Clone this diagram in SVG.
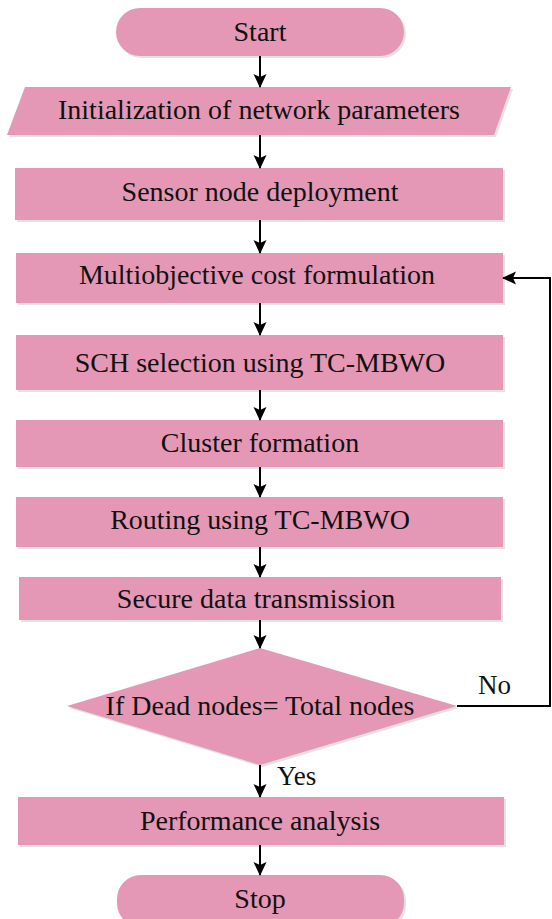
<svg xmlns="http://www.w3.org/2000/svg" width="552" height="919" viewBox="0 0 552 919">
  <defs>
    <marker id="ah" markerWidth="14" markerHeight="14" refX="13" refY="7" orient="auto" markerUnits="userSpaceOnUse">
      <path d="M0,0.5 L14,7 L0,13.5 L3,7 Z" fill="#000"/>
    </marker>
  </defs>
  <style>
    .box { fill: #E498B5; }
    .sh { fill: #e2e2e2; }
    .t { font-family: "Liberation Serif", "Times New Roman", serif; font-size: 28px; fill: #111; text-anchor: middle; }
    .lbl { font-family: "Liberation Serif", "Times New Roman", serif; font-size: 27px; fill: #111; }
    .c { fill: none; stroke: #000; stroke-width: 2; }
  </style>
  <rect width="552" height="919" fill="#fff"/>

  <g id="start">
    <rect class="sh" x="118" y="10" width="288" height="48" rx="24"/>
    <rect class="box" x="116" y="8" width="288" height="48" rx="24"/>
    <text class="t" x="260" y="41">Start</text>
  </g>
  <g id="init">
    <polygon class="sh" points="27,89 513,89 496,137 9,137"/>
    <polygon class="box" points="25,87 511,87 494,135 7,135"/>
    <text class="t" x="259" y="119">Initialization of network parameters</text>
  </g>
  <g id="deploy">
    <rect class="sh" x="17" y="170" width="488" height="52"/>
    <rect class="box" x="15" y="168" width="488" height="52"/>
    <text class="t" x="260" y="201">Sensor node deployment</text>
  </g>
  <g id="cost">
    <rect class="sh" x="18" y="255" width="487" height="50"/>
    <rect class="box" x="16" y="253" width="487" height="50"/>
    <text class="t" x="257" y="284">Multiobjective cost formulation</text>
  </g>
  <g id="sch">
    <rect class="sh" x="18" y="337" width="487" height="55"/>
    <rect class="box" x="16" y="335" width="487" height="55"/>
    <text class="t" x="260" y="372">SCH selection using TC-MBWO</text>
  </g>
  <g id="cluster">
    <rect class="sh" x="18" y="422" width="487" height="47"/>
    <rect class="box" x="16" y="420" width="487" height="47"/>
    <text class="t" x="260" y="452">Cluster formation</text>
  </g>
  <g id="routing">
    <rect class="sh" x="18" y="499" width="487" height="50"/>
    <rect class="box" x="16" y="497" width="487" height="50"/>
    <text class="t" x="260" y="529">Routing using TC-MBWO</text>
  </g>
  <g id="secure">
    <rect class="sh" x="21" y="579" width="482" height="43"/>
    <rect class="box" x="19" y="577" width="482" height="43"/>
    <text class="t" x="256" y="608">Secure data transmission</text>
  </g>
  <g id="decision">
    <polygon class="sh" points="262,650 459,708 262,767 69,708"/>
    <polygon class="box" points="260,648 457,706 260,765 67,706"/>
    <text class="t" x="260" y="715">If Dead nodes= Total nodes</text>
  </g>
  <g id="perf">
    <rect class="sh" x="20" y="799" width="486" height="48"/>
    <rect class="box" x="18" y="797" width="486" height="48"/>
    <text class="t" x="260" y="830">Performance analysis</text>
  </g>
  <g id="stop">
    <rect class="sh" x="119" y="877" width="287" height="52" rx="24"/>
    <rect class="box" x="117" y="875" width="287" height="52" rx="24"/>
    <text class="t" x="260" y="908">Stop</text>
  </g>

  <g id="connectors">
    <line class="c" x1="260" y1="56" x2="260" y2="87" marker-end="url(#ah)"/>
    <line class="c" x1="260" y1="135" x2="260" y2="168" marker-end="url(#ah)"/>
    <line class="c" x1="260" y1="220" x2="260" y2="253" marker-end="url(#ah)"/>
    <line class="c" x1="260" y1="303" x2="260" y2="335" marker-end="url(#ah)"/>
    <line class="c" x1="260" y1="390" x2="260" y2="420" marker-end="url(#ah)"/>
    <line class="c" x1="260" y1="467" x2="260" y2="497" marker-end="url(#ah)"/>
    <line class="c" x1="260" y1="547" x2="260" y2="577" marker-end="url(#ah)"/>
    <line class="c" x1="260" y1="620" x2="260" y2="648" marker-end="url(#ah)"/>
    <line class="c" x1="260" y1="765" x2="260" y2="797" marker-end="url(#ah)"/>
    <line class="c" x1="260" y1="845" x2="260" y2="875" marker-end="url(#ah)"/>
    <polyline class="c" points="457,706 550,706 550,278 503,278" marker-end="url(#ah)"/>
    <text class="lbl" x="478" y="694">No</text>
    <text class="lbl" x="277" y="785" font-size="25">Yes</text>
  </g>
</svg>
